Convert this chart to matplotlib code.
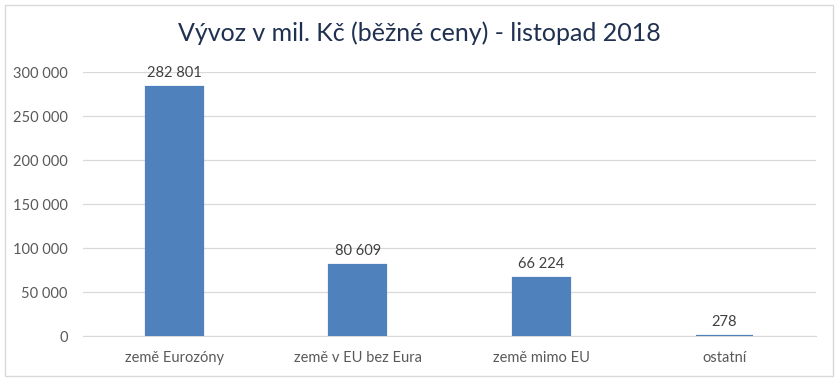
import matplotlib
matplotlib.use("Agg")
import matplotlib.pyplot as plt
from matplotlib.patches import Rectangle
from matplotlib.ticker import FuncFormatter

categories = ["země Eurozóny", "země v EU bez Eura", "země mimo EU", "ostatní"]
values = [282801, 80609, 66224, 278]
yticks = [0, 50000, 100000, 150000, 200000, 250000, 300000]
title = "Vývoz v mil. Kč (běžné ceny) - listopad 2018"

plt.rcParams['font.family'] = ['Lato', 'DejaVu Sans']

def fmt(v):
    return f"{int(v):,}".replace(",", " ")

fig = plt.figure(figsize=(8.39, 3.86), dpi=100)
fig.patches.append(Rectangle((5/839, 1-376/386), 828/839, 371/386, transform=fig.transFigure,
                             fill=False, edgecolor="#D9D9D9", linewidth=1))
ax = fig.add_axes([83/839, 1-336/386, 733/839, 264/386])
x = range(len(categories))
bars = ax.bar(x, values, width=0.31, color="#4F81BD", edgecolor="#4F81BD", linewidth=1.6, zorder=3)
ax.set_xlim(-0.5, 3.5)
ax.set_ylim(0, 300000)
ax.set_yticks(yticks)
ax.yaxis.set_major_formatter(FuncFormatter(lambda v, p: fmt(v)))
ax.set_xticks(list(x))
ax.set_xticklabels(categories)
ax.grid(axis="y", color="#D9D9D9", linewidth=0.9, zorder=0)
for s in ["top", "right", "left"]:
    ax.spines[s].set_visible(False)
ax.spines["bottom"].set_color("#D9D9D9")
ax.tick_params(axis="both", length=0, labelsize=10.5, colors="#595959")
ax.tick_params(axis="y", pad=11)
ax.tick_params(axis="x", pad=11)
for xi, v in zip(x, values):
    ax.annotate(fmt(v), (xi, v), xytext=(0, 5), textcoords="offset points",
                ha="center", va="bottom", fontsize=10.5, color="#404040")
fig.text(0.5, 1-33/386, title, ha="center", va="center", fontsize=18, color="#1F3050")
fig.savefig("out.png", dpi=100)
